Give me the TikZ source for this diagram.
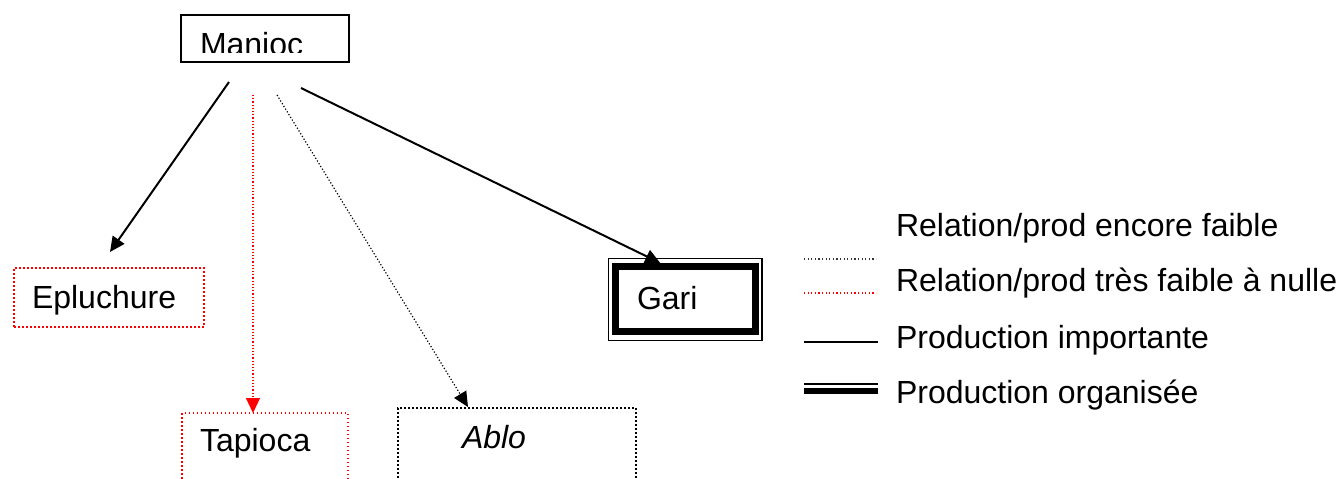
\documentclass[tikz,border=0pt]{standalone}
\usepackage{fontspec}
\setmainfont{Liberation Sans}
\usetikzlibrary{arrows.meta,calc}
\begin{document}
\begin{tikzpicture}[x=1pt,y=-1pt,
  every node/.style={outer sep=0pt,inner sep=0pt},
  lbl/.style={font=\fontsize{32}{38}\selectfont,anchor=base west},
  solidbox/.style={draw,line width=2pt},
  redbox/.style={draw=red,line width=2pt,dash pattern=on 2pt off 2pt},
  redthinbox/.style={draw=red,line width=1.4pt,dash pattern=on 1.5pt off 2.5pt},
  blackdotbox/.style={draw,line width=2pt,dash pattern=on 2pt off 2pt},
  tipA/.style={-{Triangle[length=15pt,width=14pt]}},
  strongconn/.style={tipA,line width=2pt},
  dotconn/.style={tipA,line width=1.2pt,dash pattern=on 1.2pt off 2pt},
  reddotconn/.style={dotconn,red},
  dotblack/.style={line width=1.2pt,dash pattern=on 1.2pt off 2.4pt,black!80},
  dotred/.style={line width=1.2pt,dash pattern=on 1.2pt off 2.4pt,red}
]
\useasboundingbox (0,0) rectangle (1341,479);
\clip (0,0) rectangle (1341,479);

% boxes
\node[solidbox,minimum width=168,minimum height=47] (man) at (265,38.5) {};
\begin{scope}
  \clip (182,16) rectangle (348,52);
  \node[lbl] (mantext) at (200,55) {Manioc};
\end{scope}

\node[redbox,minimum width=190,minimum height=59] (epl) at (109,297.5) {};
\node[lbl] (epltext) at (32,308) {Epluchure};

\node[draw,line width=1.5pt,minimum width=153.5,minimum height=82] (gar) at (685.25,299.5) {};
\draw[line width=7pt] ($(gar.north west)+(7,8)$) rectangle ($(gar.south east)+(-6.5,-9.5)$);
\node[lbl] (gartext) at (637,309) {Gari};

\node[redthinbox,minimum width=166,minimum height=120] (tap) at (265,473) {};
\node[lbl] (taptext) at (200,451) {Tapioca};

\node[blackdotbox,minimum width=238,minimum height=120] (abl) at (517,468) {};
\node[lbl] (abltext) at (462,448) {\itshape Ablo};

% connectors
\draw[strongconn] ($(man.south)+(-36,20)$) -- ($(epl.north)+(1,-16)$);
\draw[reddotconn] ($(man.south)+(-12,33)$) -- ($(tap.north)+(-12,0)$);
\draw[dotconn] ($(man.south)+(12,33)$) -- ($(abl.north)+(-49,-1)$);
\draw[strongconn] ($(man.south)+(36,26)$) -- ($(gar.north)+(-25,4.5)$);

% legend
\draw[dotblack] (804,259) -- (876,259);
\draw[dotred] (804,293) -- (876,293);
\draw[line width=2pt] (804,342) -- (878,342);
\draw[line width=2pt] (804,383.5) -- (878,383.5);
\draw[line width=6.5pt] (804,391) -- (878,391);
\node[lbl] (leg1) at (896,236) {Relation/prod encore faible};
\node[lbl] (leg2) at (896,291) {Relation/prod très faible à nulle};
\node[lbl] (leg3) at (896,348) {Production importante};
\node[lbl] (leg4) at (896,403) {Production organisée};
\end{tikzpicture}
\end{document}
